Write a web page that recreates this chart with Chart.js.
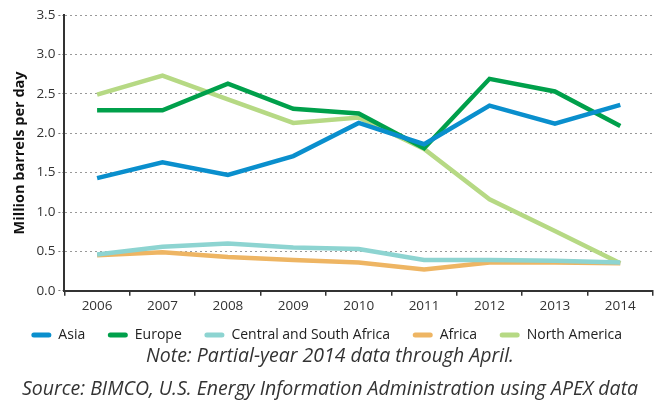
<!DOCTYPE html>
<html>
<head>
<meta charset="utf-8">
<script src="https://cdn.jsdelivr.net/npm/chart.js@4"></script>
<style>
  body { margin: 0; background: #fff; }
  #wrap { position: relative; width: 660px; height: 403px; }
  #chart-box { position: absolute; left: 0; top: 0; width: 660px; height: 352px; }
  .note {
    position: absolute; left: 0; width: 660px; text-align: center; white-space: nowrap;
    font-family: "Open Sans", sans-serif; font-style: italic; font-size: 19.5px; color: #333;
  }
</style>
</head>
<body>
<div id="wrap">
  <div id="chart-box"><canvas id="oil-chart"></canvas></div>
  <div class="note" style="top:341px">Note: Partial-year 2014 data through April.</div>
  <div class="note" style="top:374px">Source: BIMCO, U.S. Energy Information Administration using APEX data</div>
</div>
<script>
// years on the x axis
const years = ["2006", "2007", "2008", "2009", "2010", "2011", "2012", "2013", "2014"];

// million barrels per day
const asia = [1.43, 1.63, 1.47, 1.71, 2.13, 1.86, 2.35, 2.12, 2.36];
const europe = [2.29, 2.29, 2.63, 2.31, 2.25, 1.81, 2.69, 2.53, 2.09];
const centralSouthAfrica = [0.46, 0.56, 0.60, 0.55, 0.53, 0.39, 0.39, 0.38, 0.36];
const africa = [0.45, 0.49, 0.43, 0.39, 0.36, 0.27, 0.36, 0.36, 0.35];
const northAmerica = [2.49, 2.73, 2.43, 2.13, 2.20, 1.80, 1.16, 0.76, 0.35];

const yTicks = [0, 0.5, 1.0, 1.5, 2.0, 2.5, 3.0, 3.5];

const FONT = "'Open Sans', 'Noto Sans', sans-serif";
Chart.defaults.font.family = FONT;
Chart.defaults.color = "#333";

function series(label, data, color) {
    return {
        label: label,
        data: data,
        borderColor: color,
        backgroundColor: color,
        borderWidth: 4.5,
        pointRadius: 0,
        tension: 0,
        borderJoinStyle: "miter"
    };
}

const ctx = document.getElementById("oil-chart");
const myChart = new Chart(ctx, {
    type: "line",
    data: {
        labels: years,
        datasets: [
            series("Asia", asia, "#0a8fcd"),
            series("Europe", europe, "#00a04b"),
            series("Central and South Africa", centralSouthAfrica, "#8dd4d1"),
            series("Africa", africa, "#eeb563"),
            series("North America", northAmerica, "#b6d984")
        ]
    },
    options: {
        responsive: true,
        maintainAspectRatio: false,
        animation: false,
        layout: { padding: { left: 11, right: 7, top: 15, bottom: 0 } },
        plugins: {
            tooltip: { enabled: false },
            legend: {
                position: "bottom",
                labels: {
                    boxWidth: 20,
                    boxHeight: 5,
                    useBorderRadius: true,
                    borderRadius: 2.5,
                    padding: 12,
                    font: { size: 14 },
                    color: "#222",
                    generateLabels: (chart) => {
                        const items = Chart.defaults.plugins.legend.labels.generateLabels(chart);
                        // a little extra room after each label, like the original
                        items.forEach((it) => { it.lineWidth = 0; it.text = it.text + "\u2002 "; });
                        return items;
                    }
                }
            }
        },
        scales: {
            x: {
                offset: true,
                grid: {
                    offset: true,
                    drawOnChartArea: false,
                    drawTicks: true,
                    tickLength: 5,
                    color: "#333",
                    lineWidth: 1.5
                },
                border: { color: "#333", width: 2 },
                ticks: { font: { size: 13.5 }, color: "#333", padding: 2 }
            },
            y: {
                min: 0,
                max: 3.5,
                afterBuildTicks: (axis) => { axis.ticks = yTicks.map((v) => ({ value: v })); },
                grid: {
                    color: "#999",
                    tickLength: 6,
                    tickColor: "#777",
                    tickBorderDash: [2, 2]
                },
                border: { color: "#333", width: 2, dash: [2, 3] },
                ticks: {
                    font: { size: 13.5 },
                    color: "#333",
                    padding: 3,
                    callback: (v) => Number(v).toFixed(1)
                },
                title: {
                    display: true,
                    text: "Million barrels per day",
                    font: { size: 14.5, weight: "bold" },
                    color: "#111",
                    padding: { top: 0, bottom: 5 }
                }
            }
        }
    }
});
</script>
</body>
</html>
